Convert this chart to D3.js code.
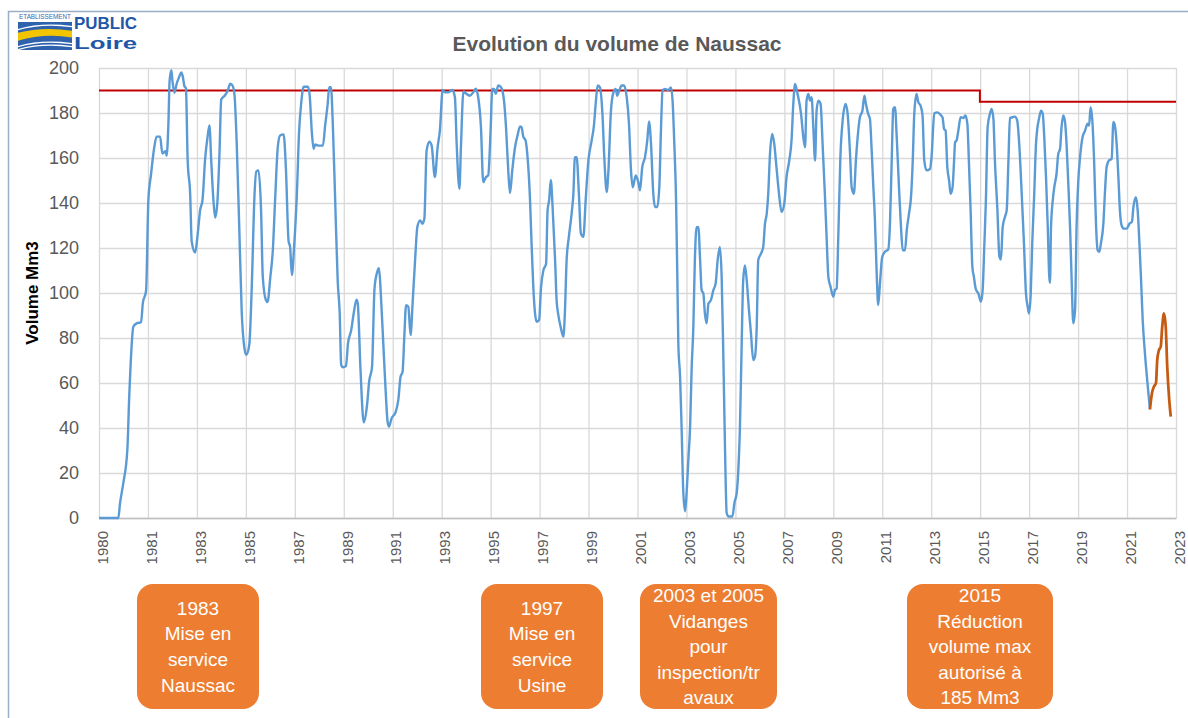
<!DOCTYPE html>
<html>
<head>
<meta charset="utf-8">
<title>Evolution du volume de Naussac</title>
<script src="https://cdn.jsdelivr.net/npm/d3@7"></script>
<style>
  body { margin: 0; background: #ffffff; }
  text { font-family: "Liberation Sans", Arial, sans-serif; }
</style>
</head>
<body>
<div id="chart"></div>
<script>

// ---- data ----

// x tick labels (Excel category axis: evenly spaced, label = year at that spot)
const tickLabels = ["1980", "1981", "1983", "1985", "1987", "1989", "1991", "1993",
  "1995", "1997", "1999", "2001", "2003", "2005", "2007", "2009", "2011", "2013",
  "2015", "2017", "2019", "2021", "2023"];

const yTicks = [0, 20, 40, 60, 80, 100, 120, 140, 160, 180, 200];

// volume of the reservoir (Mm3), blue series
const volumeYears = [
  1980.00, 1980.77, 1980.84, 1980.97, 1981.13, 1981.21, 1981.27, 1981.37, 1981.50, 1981.68,
  1981.75, 1981.88, 1981.97, 1982.08, 1982.21, 1982.30, 1982.44, 1982.53, 1982.66, 1982.70,
  1982.77, 1982.82, 1982.89, 1982.93, 1983.01, 1983.10, 1983.20, 1983.28, 1983.34, 1983.41,
  1983.47, 1983.54, 1983.64, 1983.70, 1983.84, 1983.93, 1984.04, 1984.13, 1984.24, 1984.33,
  1984.41, 1984.48, 1984.57, 1984.64, 1984.73, 1984.81, 1984.88, 1985.04, 1985.14, 1985.24,
  1985.34, 1985.41, 1985.50, 1985.60, 1985.70, 1985.80, 1985.88, 1986.00, 1986.10, 1986.21,
  1986.28, 1986.37, 1986.47, 1986.54, 1986.66, 1986.73, 1986.84, 1986.94, 1987.03, 1987.14,
  1987.23, 1987.37, 1987.46, 1987.57, 1987.63, 1987.70, 1987.79, 1987.90, 1987.99, 1988.07,
  1988.17, 1988.34, 1988.41, 1988.50, 1988.57, 1988.63, 1988.77, 1988.94, 1989.03, 1989.13,
  1989.19, 1989.26, 1989.34, 1989.43, 1989.53, 1989.61, 1989.67, 1989.74, 1989.86, 1989.94,
  1990.07, 1990.17, 1990.28, 1990.33, 1990.44, 1990.57, 1990.70, 1990.79, 1990.90, 1991.00,
  1991.10, 1991.18, 1991.25, 1991.35, 1991.45, 1991.52, 1991.58, 1991.68, 1991.84, 1991.95,
  1992.04, 1992.12, 1992.19, 1992.26, 1992.35, 1992.44, 1992.52, 1992.62, 1992.71, 1992.82,
  1992.91, 1992.99, 1993.08, 1993.19, 1993.28, 1993.41, 1993.52, 1993.61, 1993.72, 1993.81,
  1993.95, 1994.11, 1994.21, 1994.28, 1994.39, 1994.45, 1994.55, 1994.64, 1994.81, 1994.94,
  1995.04, 1995.14, 1995.25, 1995.34, 1995.45, 1995.54, 1995.64, 1995.70, 1995.77, 1995.84,
  1995.94, 1996.05, 1996.17, 1996.25, 1996.34, 1996.41, 1996.50, 1996.61, 1996.71, 1996.81,
  1996.87, 1996.94, 1997.03, 1997.11, 1997.21, 1997.27, 1997.34, 1997.41, 1997.47, 1997.57,
  1997.65, 1997.74, 1997.85, 1997.91, 1997.97, 1998.04, 1998.11, 1998.21, 1998.27, 1998.34,
  1998.43, 1998.54, 1998.60, 1998.67, 1998.76, 1998.87, 1998.94, 1999.00, 1999.07, 1999.16,
  1999.24, 1999.34, 1999.43, 1999.54, 1999.67, 1999.76, 1999.83, 1999.91, 2000.00, 2000.10,
  2000.18, 2000.27, 2000.34, 2000.44, 2000.54, 2000.63, 2000.69, 2000.77, 2000.87, 2000.96,
  2001.07, 2001.16, 2001.24, 2001.31, 2001.43, 2001.53, 2001.60, 2001.69, 2001.80, 2001.89,
  2001.96, 2002.04, 2002.13, 2002.20, 2002.29, 2002.37, 2002.44, 2002.50, 2002.60, 2002.73,
  2002.84, 2002.90, 2002.97, 2003.04, 2003.09, 2003.13, 2003.20, 2003.26, 2003.33, 2003.40,
  2003.46, 2003.53, 2003.60, 2003.66, 2003.73, 2003.79, 2003.86, 2003.93, 2004.00, 2004.06,
  2004.13, 2004.19, 2004.26, 2004.33, 2004.43, 2004.53, 2004.62, 2004.70, 2004.79, 2004.86,
  2004.93, 2004.99, 2005.06, 2005.13, 2005.29, 2005.37, 2005.46, 2005.52, 2005.59, 2005.66,
  2005.72, 2005.79, 2005.86, 2005.95, 2006.03, 2006.12, 2006.19, 2006.26, 2006.32, 2006.43,
  2006.52, 2006.59, 2006.66, 2006.72, 2006.79, 2006.88, 2006.96, 2007.06, 2007.15, 2007.25,
  2007.36, 2007.45, 2007.56, 2007.65, 2007.72, 2007.79, 2007.89, 2008.03, 2008.12, 2008.19,
  2008.25, 2008.32, 2008.39, 2008.45, 2008.52, 2008.59, 2008.65, 2008.72, 2008.81, 2008.89,
  2008.98, 2009.05, 2009.12, 2009.21, 2009.32, 2009.38, 2009.45, 2009.52, 2009.60, 2009.69,
  2009.81, 2009.89, 2009.98, 2010.05, 2010.14, 2010.22, 2010.29, 2010.38, 2010.48, 2010.56,
  2010.62, 2010.71, 2010.78, 2010.85, 2010.91, 2010.98, 2011.05, 2011.11, 2011.18, 2011.27,
  2011.38, 2011.51, 2011.58, 2011.65, 2011.71, 2011.78, 2011.85, 2011.94, 2012.02, 2012.09,
  2012.18, 2012.25, 2012.34, 2012.42, 2012.49, 2012.55, 2012.64, 2012.71, 2012.80, 2012.88,
  2012.95, 2013.04, 2013.18, 2013.24, 2013.35, 2013.48, 2013.62, 2013.68, 2013.74, 2013.80,
  2013.87, 2013.94, 2014.00, 2014.08, 2014.14, 2014.18, 2014.24, 2014.31, 2014.40, 2014.51,
  2014.59, 2014.67, 2014.73, 2014.80, 2014.87, 2014.93, 2015.01, 2015.11, 2015.21, 2015.28,
  2015.35, 2015.41, 2015.48, 2015.57, 2015.64, 2015.71, 2015.77, 2015.87, 2015.95, 2016.01,
  2016.08, 2016.17, 2016.24, 2016.31, 2016.37, 2016.48, 2016.57, 2016.66, 2016.74, 2016.84,
  2016.93, 2017.01, 2017.08, 2017.13, 2017.20, 2017.26, 2017.34, 2017.41, 2017.46, 2017.53,
  2017.61, 2017.68, 2017.74, 2017.81, 2017.88, 2017.94, 2017.97, 2018.01, 2018.08, 2018.14,
  2018.23, 2018.30, 2018.37, 2018.43, 2018.50, 2018.57, 2018.63, 2018.70, 2018.77, 2018.83,
  2018.90, 2018.97, 2019.03, 2019.10, 2019.17, 2019.27, 2019.37, 2019.47, 2019.53, 2019.59,
  2019.66, 2019.73, 2019.81, 2019.87, 2019.94, 2020.00, 2020.10, 2020.16, 2020.23, 2020.32,
  2020.43, 2020.50, 2020.56, 2020.63, 2020.70, 2020.76, 2020.83, 2020.92, 2021.03, 2021.14,
  2021.24, 2021.30, 2021.40, 2021.47, 2021.54, 2021.60, 2021.67, 2021.76, 2021.85, 2021.96
];
const volumeValues = [
  0, 0, 6.6, 15.5, 30, 55, 70, 85, 86.5, 87,
  95.5, 101, 141, 153, 165, 169.5, 169.5, 162, 163, 161,
  175, 194.5, 199, 194.5, 189, 193, 196, 198, 196.5, 192,
  191, 159, 144, 123, 118, 125, 137, 141, 160, 169,
  174.5, 159, 141, 133.5, 141, 162, 186, 188, 190, 193,
  192, 188, 166, 129, 91, 76, 72.5, 77, 103, 144,
  154, 154.5, 137, 107, 97, 96, 107, 119, 141, 165,
  170, 170.5, 156, 123, 120.5, 108, 120.5, 144, 172, 184,
  191.7, 191.7, 188, 171, 164, 166, 165.5, 165.5, 174.5, 184,
  191.5, 191.5, 173.5, 141, 105.5, 91, 68, 67, 67.5, 77.5,
  83.5, 91, 97, 95.5, 66, 42.5, 50, 61, 67, 102,
  109, 111, 100, 77.6, 55.4, 43, 40.6, 44.3, 47, 52.5,
  62.8, 65, 80.6, 94.6, 93.9, 81.3, 95.3, 114.6, 129.3, 132.3,
  130.8, 133, 163.3, 167.3, 165.6, 151.5, 164.8, 172.2, 190.2, 189.2,
  189.2, 190.2, 187, 166.3, 146.3, 164.8, 189.6, 188.8, 187.7, 189.2,
  190.8, 187, 173.7, 149.3, 151.5, 152.3, 173.7, 190.7, 190.7, 188.5,
  192.2, 191.4, 185.5, 173.7, 154.5, 144.4, 154.5, 164.8, 170, 174,
  173.7, 169.5, 167.8, 160.4, 141.2, 122, 102.7, 90.9, 87.2, 88,
  102.7, 110, 113, 136.7, 141.2, 150.3, 138.2, 114.6, 96.8, 90.2,
  85, 80.6, 90.9, 114.6, 125, 135.3, 144.1, 160.4, 160.4, 144.1,
  126.4, 125, 141.2, 158.9, 167.8, 174.4, 184, 192.2, 191.4, 179.6,
  158.9, 144.9, 154.5, 181, 189.2, 190.7, 187.7, 190, 192.2, 192.2,
  187, 175.2, 154.5, 147, 152.3, 149.3, 145.6, 156, 160.4, 167.8,
  176.3, 166.3, 144.1, 138.2, 138.2, 147, 173.7, 190, 190.7, 190.2,
  191.4, 185.5, 166.3, 141.2, 107.2, 77.6, 62.8, 40.6, 11.1, 3,
  11.1, 25.9, 40.6, 65.8, 85, 114.6, 129.3, 129.3, 114.6, 101.3,
  99.8, 90.9, 86.5, 95.3, 96.8, 101.3, 104.2, 114.6, 120.5, 107.2,
  70.3, 33.3, 2.2, 0.7, 0.7, 6.7, 11.1, 20, 40.6, 77.6,
  105.7, 112.3, 105.7, 92.4, 82.1, 70.2, 71.7, 85, 114.6, 117.5,
  120.5, 130.8, 135.3, 144.1, 161.9, 170.7, 166.3, 154.5, 144.1, 136,
  139.7, 151.5, 158.9, 167.8, 184, 192.9, 188.5, 179.6, 169.3, 164.8,
  185.5, 188.5, 185.5, 187, 173.7, 158.9, 181, 185.5, 184, 166.3,
  144.1, 124.9, 107.2, 102.7, 98.3, 101.3, 102, 126.4, 160.4, 176.6,
  184, 179.6, 163.3, 147, 144.1, 158.9, 169.3, 178.1, 181, 187.7,
  184, 179.6, 177.4, 163.3, 148.6, 132.3, 108.6, 94.6, 104.2, 116,
  118.3, 119.3, 130.8, 158.9, 181.8, 182.6, 169.3, 147, 129.3, 119,
  119, 127.9, 135.3, 142.6, 158.9, 179.6, 188.5, 184.8, 183.3, 178.9,
  158.9, 154.5, 155.2, 160.4, 179.9, 180.3, 178.9, 178, 172.9, 172.2,
  155.9, 150, 144.1, 147, 158.9, 167, 167.8, 172.2, 178.1, 177.8,
  178.9, 175.2, 158.9, 136.7, 111.6, 107.2, 101.6, 99.8, 96.1, 101.3,
  122, 141.2, 173.7, 179.6, 181.8, 177.4, 158.9, 136.7, 116, 114.9,
  129.3, 133.8, 136.7, 158.9, 177.8, 178.1, 178.4, 176.6, 166.3, 144.1,
  122, 99.8, 93.9, 90.9, 99.8, 122, 144.1, 166.3, 172.9, 177.4,
  181, 179.6, 169.3, 151.5, 129.3, 107.2, 104.5, 129.3, 141.2, 147,
  153, 161.9, 164, 173.7, 178.9, 176, 166.3, 148.6, 129.3, 107.2,
  86.5, 92.4, 129.3, 150, 160.4, 169.3, 172.2, 175.2, 174.4, 182.6,
  176.6, 158.9, 129.3, 119, 118.3, 122, 130.8, 144.1, 156, 158.9,
  159.6, 176, 174.4, 166.3, 151.5, 136.7, 130, 128.6, 128.6, 130.8,
  131.6, 138.2, 142.6, 136.7, 122, 107.2, 88, 73.2, 61.3, 48.3
];

// 2022 values, orange series
const recentYears = [2021.96, 2022.04, 2022.12, 2022.20, 2022.25, 2022.32, 2022.39,
  2022.45, 2022.52, 2022.59, 2022.65, 2022.73, 2022.79];
const recentValues = [48.3, 55.4, 58.4, 59.9, 70.2, 74.6, 76.1, 85, 90.9, 85, 67.3, 52.5, 45.1];

// maximum authorised volume (red step line)
const maxYears = [1980, 2015.17, 2015.17, 2023];
const maxValues = [190, 190, 185, 185];

// notes under the chart
const noteTexts = [
  ["1983", "Mise en", "service", "Naussac"],
  ["1997", "Mise en", "service", "Usine"],
  ["2003 et 2005", "Vidanges", "pour", "inspection/tr", "avaux"],
  ["2015", "Réduction", "volume max", "autorisé à", "185 Mm3"]
];

// ---- layout ----
const FRAME_WIDTH = 1188;
const FRAME_HEIGHT = 718;
const PLOT = {left: 99, right: 1176, top: 68, bottom: 518};

const NOTE_X = [137, 481, 640, 907];
const NOTE_W = [122, 122, 137, 146];
const NOTE_TOP = 584;
const NOTE_H = 125;

const FRAME = d3.select("#chart")
  .append("svg")
  .attr("width", FRAME_WIDTH)
  .attr("height", FRAME_HEIGHT);

// outer border of the picture
FRAME.append("rect")
  .attr("x", 8.5)
  .attr("y", 11.5)
  .attr("width", FRAME_WIDTH)
  .attr("height", FRAME_HEIGHT)
  .attr("fill", "none")
  .attr("stroke", "#9aaec8")
  .attr("stroke-width", 1.5);

// scales
const X_SCALE = d3.scaleLinear()
  .domain([1980, 2023])
  .range([PLOT.left, PLOT.right]);

const Y_SCALE = d3.scaleLinear()
  .domain([0, 200])
  .range([PLOT.bottom, PLOT.top]);

// tick spots: evenly spaced along the axis
const tickPos = tickLabels.map((t, i) => 1980 + i * (2023 - 1980) / (tickLabels.length - 1));

// vertical grid
FRAME.append("g")
  .attr("class", "grid")
  .attr("transform", "translate(0," + PLOT.bottom + ")")
  .call(d3.axisBottom(X_SCALE).tickValues(tickPos).tickSize(-(PLOT.bottom - PLOT.top)).tickFormat(""))
  .call(g => g.select(".domain").remove())
  .call(g => g.selectAll("line").attr("stroke", "#d9d9d9").attr("stroke-width", 1.3));

// horizontal grid
FRAME.append("g")
  .attr("class", "grid")
  .attr("transform", "translate(" + PLOT.left + ",0)")
  .call(d3.axisLeft(Y_SCALE).tickValues(yTicks).tickSize(-(PLOT.right - PLOT.left)).tickFormat(""))
  .call(g => g.select(".domain").remove())
  .call(g => g.selectAll("line").attr("stroke", "#d9d9d9").attr("stroke-width", 1.3));

// x axis
FRAME.append("g")
  .attr("transform", "translate(0," + PLOT.bottom + ")")
  .call(d3.axisBottom(X_SCALE).tickValues(tickPos).tickSize(0).tickFormat((d, i) => tickLabels[i]))
  .call(g => g.select(".domain").attr("stroke", "#bfbfbf").attr("stroke-width", 1.3))
  .call(g => g.selectAll("text")
    .attr("transform", "rotate(-90)")
    .attr("x", -13)
    .attr("y", 3)
    .attr("dy", "0.35em")
    .style("text-anchor", "end")
    .style("font-family", "'Liberation Sans', Arial, sans-serif")
    .style("font-size", "15px")
    .attr("fill", "#595959"));

// y axis
FRAME.append("g")
  .attr("transform", "translate(" + PLOT.left + ",0)")
  .call(d3.axisLeft(Y_SCALE).tickValues(yTicks).tickSize(0).tickPadding(20))
  .call(g => g.select(".domain").remove())
  .call(g => g.selectAll("text")
    .style("font-family", "'Liberation Sans', Arial, sans-serif")
    .style("font-size", "18px")
    .attr("fill", "#595959"));

// lines
const line = d3.line()
  .x(d => X_SCALE(d[0]))
  .y(d => Y_SCALE(d[1]))
  .curve(d3.curveMonotoneX);

FRAME.append("path")
  .datum(d3.zip(maxYears, maxValues))
  .attr("d", d3.line().x(d => X_SCALE(d[0])).y(d => Y_SCALE(d[1])))
  .attr("fill", "none")
  .attr("stroke", "#c00000")
  .attr("stroke-width", 2);

FRAME.append("path")
  .datum(d3.zip(volumeYears, volumeValues))
  .attr("d", line)
  .attr("fill", "none")
  .attr("stroke", "#5b9bd5")
  .attr("stroke-width", 2.4)
  .attr("stroke-linejoin", "round");

FRAME.append("path")
  .datum(d3.zip(recentYears, recentValues))
  .attr("d", line)
  .attr("fill", "none")
  .attr("stroke", "#c55a11")
  .attr("stroke-width", 2.75)
  .attr("stroke-linejoin", "round");

// title
FRAME.append("text")
  .attr("x", 617)
  .attr("y", 51)
  .attr("text-anchor", "middle")
  .style("font-size", "21px")
  .style("font-weight", "bold")
  .attr("fill", "#595959")
  .text("Evolution du volume de Naussac");

// y axis title
FRAME.append("text")
  .attr("transform", "translate(38," + ((PLOT.top + PLOT.bottom) / 2) + ") rotate(-90)")
  .attr("text-anchor", "middle")
  .style("font-size", "17px")
  .style("font-weight", "bold")
  .attr("fill", "#000000")
  .text("Volume Mm3");

// note boxes
const notes = FRAME.selectAll(".note")
  .data(noteTexts)
  .enter()
  .append("g")
  .attr("class", "note");

notes.append("rect")
  .attr("x", (d, i) => NOTE_X[i])
  .attr("y", NOTE_TOP)
  .attr("width", (d, i) => NOTE_W[i])
  .attr("height", NOTE_H)
  .attr("rx", 16)
  .attr("fill", "#ed7d31");

notes.each(function(d, i) {
  const cx = NOTE_X[i] + NOTE_W[i] / 2;
  const first = NOTE_TOP + NOTE_H / 2 - (d.length - 1) * 25.6 / 2;
  d3.select(this).selectAll("text")
    .data(d)
    .enter()
    .append("text")
    .attr("x", cx)
    .attr("y", (t, j) => first + j * 25.6)
    .attr("dy", "0.35em")
    .attr("text-anchor", "middle")
    .style("font-size", "19px")
    .attr("fill", "#ffffff")
    .text(t => t);
});

// logo (Etablissement Public Loire)
const LOGO = FRAME.append("g");

LOGO.append("text")
  .attr("x", 19)
  .attr("y", 19)
  .attr("textLength", 52)
  .attr("lengthAdjust", "spacingAndGlyphs")
  .style("font-size", "7px")
  .attr("fill", "#3a66ad")
  .text("ETABLISSEMENT");

LOGO.append("text")
  .attr("x", 74)
  .attr("y", 29)
  .attr("textLength", 63)
  .attr("lengthAdjust", "spacingAndGlyphs")
  .style("font-family", "'Liberation Sans Narrow', 'Liberation Sans', sans-serif")
  .style("font-size", "17px")
  .style("font-weight", "bold")
  .attr("fill", "#2157a8")
  .text("PUBLIC");

LOGO.append("text")
  .attr("x", 74)
  .attr("y", 49)
  .attr("textLength", 63)
  .attr("lengthAdjust", "spacingAndGlyphs")
  .style("font-size", "17px")
  .style("font-weight", "bold")
  .attr("fill", "#2157a8")
  .text("Loire");

LOGO.append("defs").append("clipPath")
  .attr("id", "logoClip")
  .append("rect")
  .attr("x", 18).attr("y", 22).attr("width", 54).attr("height", 28);

const waves = LOGO.append("g").attr("clip-path", "url(#logoClip)");

waves.append("rect")
  .attr("x", 18).attr("y", 22).attr("width", 54).attr("height", 28)
  .attr("fill", "#2f62ad");

waves.append("path")
  .attr("d", "M14,34 Q40,26 74,31 L74,38 Q44,32 14,42 Z")
  .attr("fill", "#f2c500");

[27, 44, 47].forEach(y0 => {
  waves.append("path")
    .attr("d", "M14," + (y0 + 4) + " Q40," + (y0 - 5) + " 74," + y0)
    .attr("fill", "none")
    .attr("stroke", "#ffffff")
    .attr("stroke-width", 1.2);
});

</script>
</body>
</html>
